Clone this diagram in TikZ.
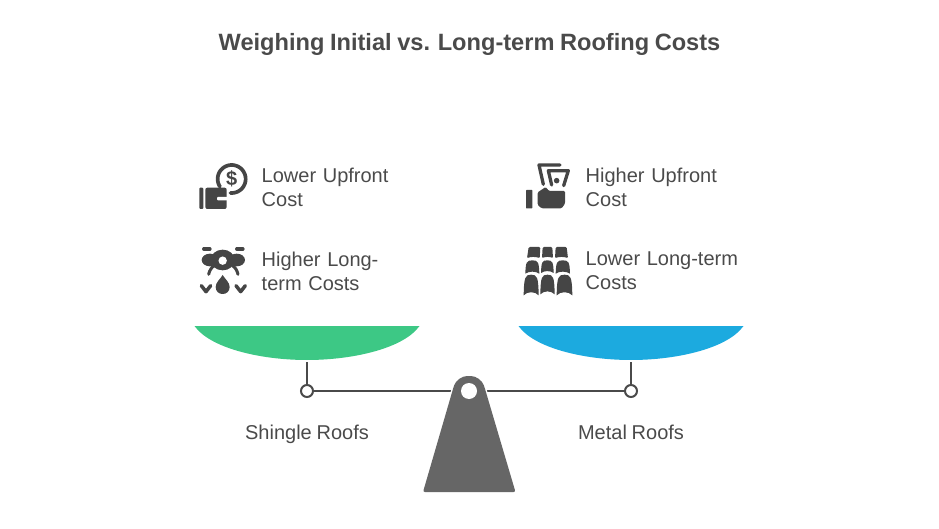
\documentclass[tikz,border=0pt]{standalone}
\usepackage{fontspec}
\setmainfont[WordSpace=0.85]{Liberation Sans}
\definecolor{ink}{HTML}{4A4A4A}
\definecolor{icon}{HTML}{454545}
\definecolor{greenpan}{HTML}{3DC885}
\definecolor{bluepan}{HTML}{1CAADF}
\definecolor{stand}{HTML}{666666}
\newcommand{\rooftile}[4]{%
  \fill[icon] ({#1},{#4}) .. controls ({#1+1},{#3+0.12*(#4-#3)}) and ({#1+0.1*(#2-#1)},{#3}) .. ({0.5*(#1+#2)},{#3})
    .. controls ({#2-0.1*(#2-#1)},{#3}) and ({#2-1},{#3+0.12*(#4-#3)}) .. ({#2},{#4})
    .. controls ({#2-0.25*(#2-#1)},{#4-0.2*(#4-#3)}) and ({#1+0.25*(#2-#1)},{#4-0.2*(#4-#3)}) .. cycle;}
\newcommand{\toptile}[6]{%
  \fill[icon,rounded corners=1.2pt] ({#1},{#6}) -- ({#3},{#5}) -- ({#4},{#5}) -- ({#2},{#6})
    .. controls ({#2-0.25*(#2-#1)},{#6-5}) and ({#1+0.25*(#2-#1)},{#6-5}) .. cycle;}
\tikzset{
  label text/.style={text=ink,font=\fontsize{20}{24}\selectfont,align=left,anchor=west,inner sep=0pt,text width=175pt},
  caption text/.style={text=ink,font=\fontsize{20}{24}\selectfont,inner sep=0pt,anchor=base},
  joint/.style={circle,draw=ink,line width=2pt,fill=white,minimum size=12pt,inner sep=0pt},
  beam/.style={draw=ink,line width=2.1pt},
  iconline/.style={draw=icon,line cap=round,line join=round},
}
\begin{document}
\begin{tikzpicture}[x=1pt,y=-1pt]
\useasboundingbox (0,0) rectangle (939,529);
\node[text=ink,font=\fontsize{23.6}{28}\selectfont\bfseries,inner sep=0pt] (title) at (469.5,44.5) {Weighing Initial vs. Long-term Roofing Costs};

% labels
\node[label text] (lu) at (261.5,187) {Lower Upfront\\Cost};
\node[label text] (hl) at (261.5,271) {Higher Long-\\term Costs};
\node[label text] (hu) at (585.5,187) {Higher Upfront\\Cost};
\node[label text] (ll) at (585.5,271) {Lower Long-term\\Costs};
\node[caption text] (sr) at (307,439) {Shingle Roofs};
\node[caption text] (mr) at (631,439) {Metal Roofs};

% pans
\fill[greenpan] (194.5,326) -- (419.5,326) .. controls (404,348) and (354,360) .. (307,360) .. controls (260,360) and (210,348) .. (194.5,326) -- cycle;
\fill[bluepan] (518.5,326) -- (743.5,326) .. controls (728,348) and (678,360) .. (631,360) .. controls (584,360) and (534,348) .. (518.5,326) -- cycle;
\coordinate (lpan) at (307,362);
\coordinate (rpan) at (631,362);

% beam and joints
\node[joint] (lj) at (307,391) {};
\node[joint] (rj) at (631,391) {};
\node[circle,minimum size=16pt,inner sep=0pt] (pivot) at (469,391) {};
\draw[beam] (lj) -- (pivot);
\draw[beam] (rj) -- (pivot);
\draw[beam] (lpan) -- (lj);
\draw[beam] (rpan) -- (rj);

% fulcrum
\path[fill=stand,draw=white,line width=3.2pt] (423,492) -- (515,492) -- (484.3,387.2) .. controls (482.2,380.5) and (476,376) .. (469,376) .. controls (462,376) and (455.8,380.5) .. (453.7,387.2) -- cycle;
\fill[stand,rounded corners=2pt] (423,492) -- (515.5,492) -- (484.5,387.2) .. controls (482.2,380.5) and (476,376) .. (469,376) .. controls (462,376) and (455.8,380.5) .. (453.5,387.2) -- cycle;
\fill[white] (469,391) circle[radius=8pt];

% wallet and coin
\begin{scope}[shift={(190,155)},x=0.3333pt,y=-0.3333pt]
  \fill[icon,rounded corners=1pt] (28,98) rectangle (40,162);
  \fill[icon,rounded corners=2pt] (46,98) rectangle (110,162);
  \fill[white,rounded corners=1pt] (81,126) rectangle (114,136);
  \draw[iconline,line width=3.7pt] plot[smooth,domain=-95:213,samples=50] ({125+42*cos(\x)},{72-42*sin(\x)});
  \node[text=icon,font=\fontsize{20}{20}\selectfont\bfseries,inner sep=0pt] (coin) at (125,72) {\$};
\end{scope}

% leak icon
\begin{scope}[shift={(190,235)},x=0.3333pt,y=-0.3333pt]
  \draw[iconline,line width=3.2pt] (41,42) -- (60,42);
  \draw[iconline,line width=3.2pt] (140,42) -- (159,42);
  \fill[icon] (60,75) ellipse[x radius=25,y radius=19];
  \fill[icon] (140,75) ellipse[x radius=25,y radius=19];
  \fill[icon] (98,75) ellipse[x radius=36,y radius=31];
  \fill[white] (98,77) circle[radius=4.2pt];
  \draw[iconline,line width=3pt] (72,92) .. controls (65,97) and (58,107) .. (56,118);
  \draw[iconline,line width=3pt] (128,92) .. controls (135,97) and (142,107) .. (144,118);
  \draw[iconline,line width=3.5pt] (34,152) -- (48,170) -- (62,152);
  \draw[iconline,line width=3.5pt] (138,152) -- (152,170) -- (166,152);
  \fill[icon] (98,120) .. controls (105,132) and (119,142) .. (119,156) .. controls (119,184) and (77,184) .. (77,156) .. controls (77,142) and (91,132) .. (98,120) -- cycle;
\end{scope}

% hand with bills
\begin{scope}[shift={(515,155)},x=0.3333pt,y=-0.3333pt]
  \fill[icon,rounded corners=0.5pt] (33,105) rectangle (52,160);
  \fill[icon,rounded corners=1.2pt] (68,112) -- (92,96) -- (102,108) -- (150,108) -- (150,146) -- (140,160) -- (80,160) -- (68,150) -- cycle;
  \draw[iconline,line width=3.3pt] (85,88) -- (72,30) -- (135,30);
  \draw[iconline,line width=3.3pt] (110,90) -- (100,47) -- (160,47) -- (146,92);
  \fill[icon] (125,77) circle[radius=2.8pt];
\end{scope}

% roof tiles
\begin{scope}[shift={(515,235)},x=0.3333pt,y=-0.3333pt]
  \toptile{36}{74}{41}{76}{36}{70}
  \toptile{81}{114}{83}{112}{36}{70}
  \toptile{120}{159}{122}{155}{36}{70}
  \rooftile{31}{73}{76}{116}
  \rooftile{78}{116}{76}{114}
  \rooftile{122}{165}{76}{116}
  \rooftile{26}{71}{119}{181}
  \rooftile{76}{119}{119}{178}
  \rooftile{125}{172}{119}{181}
\end{scope}
\end{tikzpicture}
\end{document}
